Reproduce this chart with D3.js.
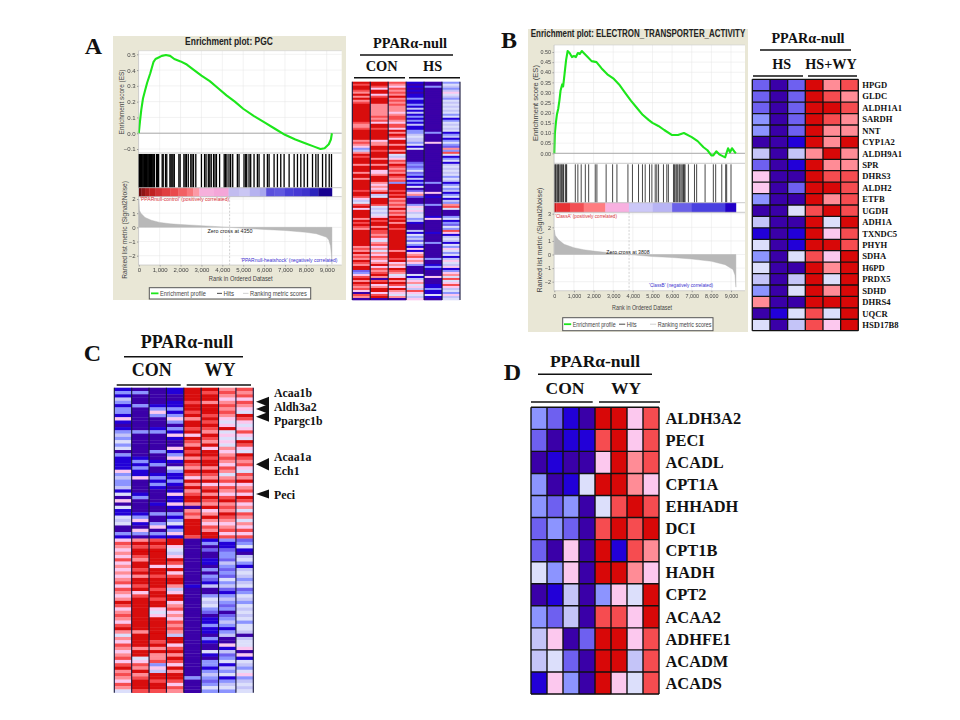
<!DOCTYPE html>
<html><head><meta charset="utf-8">
<script src="https://cdn.jsdelivr.net/npm/d3@7"></script>
<style>html,body{margin:0;padding:0;background:#fff}svg{display:block}</style>
</head><body><svg id="c" width="960" height="720"></svg>
<script>
// ---------- data: heatmap levels, 0 = deepest blue ... 9 = deepest red ----------
const heatColors = ["#3a00a8","#2200d8","#6e60f0","#8c94ff","#c4c4f8","#dcdffb","#fcc8ee","#ff8c96","#f64c50","#d80808"];

const heatA = [
 "9899879797 8999999999 8778999997 8763479899 9799979979 9999899864 5896999979 8987999999 9978797879 8799236897 987860870",
 "9986996899 9777777878 6998999996 7799899979 9799667999 7676794599 9854545698 9979887865 7867576876 7968789708 967996890",
 "8768787978 7877767887 6886979869 9799795468 7987879878 3999898978 7879787989 7998999999 9999799989 6769875697 986976570",
 "1010101131 1314141313 1411334544 3515000000 2323523141 3150267200 0365645534 1000415342 5316167867 6300005146 756486546",
 "0030000000 0000000000 0000030000 6000000000 0000000000 3000060100 0300000160 0000010000 3000000030 0131000600 011311510",
 "3543465435 4545453513 5454513413 5327385135 1454545354 1353413514 3785000351 3253861454 1536535146 5461367585 686453645"
];
const heatC = [
 "1314313316 1013435350 3111163433 4150605115 450031 6876768676 7678687679 8678768975 7687678689 7876875",
 "0300030000 0003000000 0131311600 0013000013 610630 7989987998 9799896899 9999999979 9997995687 9789998",
 "0000013630 0013000003 0013001313 1000010030 036031 8989999969 9899989989 9656999999 9897977836 4998998",
 "1100113136 3031610061 3610531131 0161161031 351361 9965469869 6899746996 7867687874 9968979869 7998687",
 "9999899897 9989698798 9798798697 9789970787 999998 0000000000 0000100000 0000000000 0000000000 0030000",
 "9899799989 8987987969 9899798796 8979879679 768799 1302001103 0321400354 5320113110 3100510331 3432353",
 "7876787876 5695656576 7876875786 8768978798 767868 3112332432 3253421343 2302343134 0061423514 3513453",
 "8786876598 6568659865 9878658796 7869867587 576868 2351045314 5434523543 5454535540 4556061543 5634545"
];
const genesB = ["HPGD","GLDC","ALDH1A1","SARDH","NNT","CYP1A2","ALDH9A1","SPR","DHRS3","ALDH2","ETFB","UGDH","ADH1A","TXNDC5","PHYH","SDHA","H6PD","PRDX5","SDHD","DHRS4","UQCR","HSD17B8"];
const rowsB = ["202978","202987","202998","302987","302977","001979","404797","201977","600988","602998","300978","005898","400959","101968","501998","305869","500979","404959","305979","700999","015859","504869"];
const genesD = ["ALDH3A2","PECI","ACADL","CPT1A","EHHADH","DCI","CPT1B","HADH","CPT2","ACAA2","ADHFE1","ACADM","ACADS"];
const rowsD = ["32109968","20118968","01006978","30159976","32305898","23208989","20609187","53609976","01403659","32408869","46029968","45209948","16309658"];
const labelsC = ["Acaa1b","Aldh3a2","Ppargc1b","Acaa1a","Ech1","Peci"];

const esA = [[0,0],[60,.08],[120,.15],[200,.22],[300,.27],[400,.32],[550,.38],[700,.45],[800,.47],[950,.48],[1100,.49],[1300,.495],[1500,.49],[1700,.47],[2000,.455],[2300,.435],[2600,.405],[3000,.365],[3400,.33],[3800,.285],[4200,.24],[4600,.2],[5000,.155],[5500,.11],[6000,.07],[6500,.03],[7000,-.01],[7500,-.04],[8000,-.065],[8400,-.085],[8700,-.1],[8900,-.095],[9100,-.07],[9200,-.04],[9250,0]];
const esB = [[0,0],[30,.1],[80,.15],[130,.19],[200,.22],[260,.26],[320,.31],[400,.34],[450,.33],[520,.39],[600,.46],[680,.505],[780,.495],[900,.475],[1000,.48],[1100,.475],[1200,.495],[1300,.49],[1400,.505],[1550,.49],[1700,.475],[1900,.455],[2150,.45],[2400,.42],[2700,.39],[3000,.37],[3300,.34],[3600,.3],[3900,.26],[4200,.225],[4500,.19],[4800,.165],[5000,.15],[5300,.135],[5600,.115],[6000,.09],[6300,.09],[6600,.1],[7000,.08],[7300,.06],[7600,.03],[7800,.015],[8000,-.01],[8100,-.01],[8250,.01],[8400,-.005],[8600,-.015],[8700,-.02],[8850,.025],[8950,.005],[9050,.025],[9200,.005],[9250,0]];
const hitsA = [0,40,80,120,160,200,240,280,320,360,400,440,480,520,560,600,640,680,720,750,850,900,950,1120,1170,1280,1340,1490,1540,1590,1640,1700,1920,1980,2160,2220,2280,2370,2490,2550,2620,2730,3000,3150,3220,3330,3400,3470,3580,3650,3720,3870,4090,4150,4220,4320,4400,4500,4720,4800,5040,5120,5170,5280,5360,5520,5680,5760,6000,6160,6240,6480,6640,6800,6960,7200,7440,7600,7760,7920,8080,8320,8480,8590,8800,8960,9120,9230];
const hitsB = [20,60,100,170,200,230,290,340,380,430,470,560,600,630,1070,1200,1370,1580,1750,2085,2170,2640,2970,3190,3750,3980,4290,4490,4630,4850,4970,5140,5220,5310,5560,5730,5810,6070,6120,6190,6240,6290,6360,6400,6460,6520,6580,6620,6660,6830,7140,7250,7680,8100,8220,8530,8730,8780,9000];
const bandEndsA = [120,300,500,800,1100,1500,1900,2300,2600,2900,3600,4300,4800,5300,5800,6100,6500,7000,7400,7800,8200,8600,9250];
const bandColorsA = ["#6e0c10","#8e1216","#a81a1e","#c02024","#d03034","#e03c40","#ea4a4e","#f26064","#f8787c","#fc9aa6","#f6b0dc","#f4a6d8","#c2bcf0","#cac6f4","#b6b2f0","#a8a6ee","#5a50dc","#6058e0","#4a40d8","#4438d4","#3c30cc","#2c20bc","#140090"];
const bandEndsB = [100,800,1500,2600,3800,5000,6000,7000,8700,9250];
const bandColorsB = ["#c41418","#e83034","#f25054","#ff7c80","#f8b0e0","#ccc8f8","#b8b4f4","#6a60e8","#4a40e0","#2000c8"];
const metricA = [[0,2],[30,1.2],[100,1],[300,.7],[600,.5],[1000,.35],[1500,.25],[2000,.2],[3000,.12],[4000,.03],[4350,0],[5000,-.07],[6000,-.15],[7000,-.22],[8000,-.35],[8500,-.45],[9000,-.7],[9100,-.9],[9180,-1.3],[9230,-2],[9250,-2.6]];
const metricB = [[0,1.8],[50,1.4],[200,1.1],[500,.75],[1000,.5],[1500,.35],[2000,.25],[3000,.1],[3808,0],[5000,-.15],[6000,-.22],[7000,-.33],[8000,-.5],[8700,-.75],[9100,-1.1],[9200,-1.5],[9250,-2.4]];
const xTicks = [0,1000,2000,3000,4000,5000,6000,7000,8000,9000];
const esTicksA = [.5,.4,.3,.2,.1,0,-.1];
const esTicksB = [.5,.45,.4,.35,.3,.25,.2,.15,.1,.05,0];
const metricTicksA = [2,1,0,-1,-2];
const metricTicksB = [3,2,1,0,-1,-2];

// ---------- drawing ----------
const svg = d3.select("#c");
const SERIF = "'Liberation Serif',serif", SANS = "'Liberation Sans',sans-serif";
const defs = svg.append("defs");
[["soft",0.45],["soft2",0.3]].forEach(([id,s])=>defs.append("filter").attr("id",id).attr("x","-5%").attr("y","-5%").attr("width","110%").attr("height","110%")
  .append("feGaussianBlur").attr("stdDeviation",s));
const clean = s => s.replace(/ /g,"");
const heatScale = d3.scaleQuantize().domain([0,10]).range(heatColors);
const toCols = rows => d3.transpose(rows.map(r=>r.split(""))).map(c=>c.join(""));

function fit(sel,w){
  const L=sel.node().getComputedTextLength(), x=+sel.attr("x"), y=+sel.attr("y");
  sel.attr("transform",`translate(${x},${y}) scale(${w/L},1) translate(${-x},${-y})`);
  return sel;
}
function heat(cols,box,opt={}){
  const c = cols.map(clean), n = c[0].length;
  const x = d3.scaleBand().domain(d3.range(c.length)).range([box.x0,box.x1]);
  const y = d3.scaleBand().domain(d3.range(n)).range([box.y0,box.y1]);
  const g = svg.append("g");
  const cells = g.append("g"); if(opt.soft) cells.attr("filter","url(#soft)");
  c.forEach((s,i)=>cells.selectAll(null).data(s.split("")).join("rect")
    .attr("x",x(i)).attr("width",x.bandwidth())
    .attr("y",(d,j)=>y(j)).attr("height",y.bandwidth()+0.3)
    .attr("fill",d=>heatScale(+d+0.5)));
  const stroke = opt.grid||"#222";
  g.selectAll(null).data(d3.range(c.length+1)).join("line")
    .attr("x1",i=>i<c.length?x(i):box.x1).attr("x2",i=>i<c.length?x(i):box.x1)
    .attr("y1",box.y0).attr("y2",box.y1).attr("stroke",stroke).attr("stroke-width",opt.sw||1);
  if(opt.rows){
    g.selectAll(null).data(d3.range(n+1)).join("line")
      .attr("y1",i=>i<n?y(i):box.y1).attr("y2",i=>i<n?y(i):box.y1)
      .attr("x1",box.x0).attr("x2",box.x1).attr("stroke",stroke).attr("stroke-width",opt.sw||1);
  }
  if(opt.labels){
    g.selectAll(null).data(opt.labels).join("text")
      .attr("x",box.x1+opt.labelDx).attr("y",(d,i)=>y(i)+y.bandwidth()/2)
      .attr("dy","0.35em").attr("font-family",SERIF).attr("font-weight","bold")
      .attr("font-size",opt.labelSize).attr("fill","#111").text(d=>d);
  }
  return y;
}
function txt(x,y,t,size,o={}){
  return svg.append("text").attr("x",x).attr("y",y).text(t)
   .attr("font-family",o.fam||SERIF).attr("font-weight",o.w||"bold").attr("font-size",size)
   .attr("text-anchor",o.a||"middle").attr("fill",o.fill||"#111");
}
function hline(x0,x1,y,w){svg.append("line").attr("x1",x0).attr("x2",x1).attr("y1",y).attr("y2",y).attr("stroke","#111").attr("stroke-width",w||1.6);}
function header(h){
  txt(h.tx,h.ty,"PPARα-null",h.size);
  hline(h.lx0,h.lx1,h.ly);
  txt(h.ax,h.gy,h.a,h.size); txt(h.bx,h.gy,h.b,h.size);
  hline(h.a0,h.a1,h.gly); hline(h.b0,h.b1,h.gly);
}

function gsea(p){
  const g = svg.append("g").attr("filter","url(#soft2)");
  g.append("rect").attr("x",p.bg[0]).attr("y",p.bg[1]).attr("width",p.bg[2]-p.bg[0]).attr("height",p.bg[3]-p.bg[1]).attr("fill","#e9e7d6");
  g.append("rect").attr("x",p.x0).attr("y",p.top).attr("width",p.x1-p.x0).attr("height",p.bottom-p.top).attr("fill","#fff");
  const x = d3.scaleLinear().domain([0,9000]).range([p.x0+0.3,p.x9]);
  const yE = d3.scaleLinear().domain(p.esD).range(p.esR);
  const yM = d3.scaleLinear().domain([2,-2]).range(p.mR);
  const gridCol="#e4e4e4";
  g.selectAll(null).data(p.xt).join("line").attr("x1",d=>x(d)).attr("x2",d=>x(d)).attr("y1",p.top).attr("y2",p.esB).attr("stroke",gridCol).attr("stroke-width",.5);
  g.selectAll(null).data(p.xt).join("line").attr("x1",d=>x(d)).attr("x2",d=>x(d)).attr("y1",p.bandB).attr("y2",p.bottom).attr("stroke",gridCol).attr("stroke-width",.5);
  g.selectAll(null).data(p.et).join("line").attr("y1",d=>yE(d)).attr("y2",d=>yE(d)).attr("x1",p.x0).attr("x2",p.x1).attr("stroke",gridCol).attr("stroke-width",.5);
  g.selectAll(null).data(p.mt).join("line").attr("y1",d=>yM(d)).attr("y2",d=>yM(d)).attr("x1",p.x0).attr("x2",p.x1).attr("stroke",gridCol).attr("stroke-width",.5);
  g.selectAll(null).data(p.hits).join("line").attr("x1",d=>x(d)).attr("x2",d=>x(d)).attr("y1",p.esB+1).attr("y2",p.hitB)
    .attr("stroke","#000").attr("stroke-width",p.hitW).attr("stroke-opacity",p.hitO);
  g.selectAll(null).data(p.bandE).join("rect")
    .attr("x",(d,i)=>x(i?p.bandE[i-1]:0)).attr("width",(d,i)=>x(d)-x(i?p.bandE[i-1]:0)+.3)
    .attr("y",p.hitB).attr("height",p.bandB-p.hitB).attr("fill",(d,i)=>p.bandC[i]);
  [p.esB,p.hitB,p.bandB].forEach(y=>g.append("line").attr("x1",p.x0).attr("x2",p.x1).attr("y1",y).attr("y2",y).attr("stroke","#bbb").attr("stroke-width",.8));
  g.append("path").datum(p.metric).attr("fill","#b8b8b8").attr("stroke","#b0b0b0").attr("stroke-width",.4)
    .attr("d",d3.area().x(d=>x(d[0])).y0(yM(0)).y1(d=>yM(d[1])));
  g.append("line").attr("x1",x(p.zero)).attr("x2",x(p.zero)).attr("y1",p.bandB).attr("y2",p.bottom).attr("stroke","#bbb").attr("stroke-width",.7).attr("stroke-dasharray","2,1.5");
  g.append("line").attr("x1",p.x0).attr("x2",p.x1).attr("y1",yE(0)).attr("y2",yE(0)).attr("stroke","#aaa").attr("stroke-width",1);
  g.append("path").datum(p.es).attr("fill","none").attr("stroke","#1ee61a").attr("stroke-width",2.1).attr("stroke-linejoin","round")
    .attr("d",d3.line().x(d=>x(d[0])).y(d=>yE(d[1])));
  const axStyle = a=>{a.select(".domain").remove();a.selectAll("line").attr("stroke","#999");
    a.selectAll("text").attr("font-family",SANS).attr("font-size",p.tick).attr("fill","#444");};
  g.append("g").attr("transform",`translate(${p.x0},0)`).call(d3.axisLeft(yE).tickValues(p.et).tickFormat(d3.format(p.ef)).tickSize(1.5).tickPadding(1.5)).call(axStyle);
  g.append("g").attr("transform",`translate(${p.x0},0)`).call(d3.axisLeft(yM).tickValues(p.mt).tickFormat(d3.format("d")).tickSize(1.5).tickPadding(1.5)).call(axStyle);
  g.append("g").attr("transform",`translate(0,${p.bottom})`).call(d3.axisBottom(x).tickValues(p.xt).tickFormat(d3.format(",")).tickSize(1.5).tickPadding(1.5)).call(axStyle);
  g.append("line").attr("x1",p.x0).attr("x2",p.x1).attr("y1",p.top).attr("y2",p.top).attr("stroke","#ccc").attr("stroke-width",.6);
  g.append("line").attr("x1",p.x0).attr("x2",p.x0).attr("y1",p.top).attr("y2",p.bottom).attr("stroke","#bbb").attr("stroke-width",.6);
  g.append("line").attr("x1",p.x0).attr("x2",p.x1).attr("y1",p.bottom).attr("y2",p.bottom).attr("stroke","#bbb").attr("stroke-width",.6);
  const L=p.leg, ym=(L.y0+L.y1)/2;
  g.append("rect").attr("x",L.x0).attr("y",L.y0).attr("width",L.x1-L.x0).attr("height",L.y1-L.y0).attr("fill","#fff").attr("stroke","#555").attr("stroke-width",1);
  [[L.a,"#1ee61a",1.8],[L.b,"#333",.9],[L.c,"#ccc",.9]].forEach(([q,col,w])=>g.append("line").attr("x1",q[0]).attr("x2",q[1]).attr("y1",ym).attr("y2",ym).attr("stroke",col).attr("stroke-width",w));
  // text
  fit(txt(p.title[0],p.title[1],p.title[2],p.title[3],{fam:SANS,fill:"#222"}),p.title[4]);
  const rot=(xx,yy,s,w)=>{const t=svg.append("text").attr("text-anchor","middle").attr("font-family",SANS).attr("font-size",p.lab).attr("fill","#444").text(s);
     t.attr("transform",`translate(${xx},${yy}) rotate(-90) scale(${w/t.node().getComputedTextLength()},1)`);};
  rot(p.esLab[0],p.esLab[1],"Enrichment score (ES)",p.esLab[2]);
  rot(p.mLab[0],p.mLab[1],"Ranked list metric (Signal2Noise)",p.mLab[2]);
  fit(txt(p.xLab[0],p.xLab[1],"Rank in Ordered Dataset",p.lab,{fam:SANS,w:"normal",fill:"#444"}),p.xLab[2]);
  fit(txt(p.red[0],p.red[1],p.red[2],p.small,{fam:SANS,w:"normal",a:"start",fill:"#d83038"}),p.red[3]);
  fit(txt(p.blue[0],p.blue[1],p.blue[2],p.small,{fam:SANS,w:"normal",a:"start",fill:"#3a30d0"}),p.blue[3]);
  txt(p.zt[0],p.zt[1],"Zero cross at "+p.zero,p.small,{fam:SANS,w:"normal",fill:"#222"});
  [[L.a,"Enrichment profile",L.w[0]],[L.b,"Hits",L.w[1]],[L.c,"Ranking metric scores",L.w[2]]].forEach(([q,s,w])=>
    fit(txt(q[1]+1.5,ym+2.4,s,p.lab,{fam:SANS,w:"normal",a:"start",fill:"#444"}),w));
}

gsea({bg:[113,36,346,300],x0:138.5,x1:341.7,x9:326.7,top:50.7,bottom:265,esB:153,hitB:187.7,bandB:196.7,
  esD:[.5,-.1],esR:[54.3,149],mR:[199,255.7],xt:xTicks,et:esTicksA,mt:metricTicksA,ef:".1f",es:esA,metric:metricA,hits:hitsA,hitW:1.3,hitO:1,
  bandE:bandEndsA,bandC:bandColorsA,zero:4350,tick:6,lab:7,small:5.4,
  title:[229,45,"Enrichment plot: PGC",10,88],esLab:[124,102,65],mLab:[127,230,98],xLab:[240.7,281,64],
  red:[140,201.5,"'PPARnull-control' (positively correlated)",89],blue:[240.7,262,"'PPARnull-heatshock' (negatively correlated)",97],zt:[230,233],
  leg:{x0:149.3,x1:310.7,y0:287.7,y1:299,a:[151,158.5],b:[217,222],c:[243,248.5],w:[46,10.5,57]}});
gsea({bg:[528,29,748,332],x0:554,x1:745,x9:731,top:45,bottom:290.7,esB:163.3,hitB:202.7,bandB:212.3,
  esD:[.5,0],esR:[52,153.3],mR:[227.3,281.7],xt:xTicks,et:esTicksB,mt:metricTicksB,ef:".2f",es:esB,metric:metricB,hits:hitsB,hitW:.8,hitO:.9,
  bandE:bandEndsB,bandC:bandColorsB,zero:3808,tick:5.4,lab:7,small:5.2,
  title:[638,37,"Enrichment plot: ELECTRON_TRANSPORTER_ACTIVITY",10,215],esLab:[538,103,76],mLab:[542,240,105],xLab:[642,310,60],
  red:[555,218,"'ClassA' (positively correlated)",62],blue:[649,287,"'ClassB' (negatively correlated)",64],zt:[628,254],
  leg:{x0:562.7,x1:713,y0:317.7,y1:330.7,a:[564,571.2],b:[619,625.2],c:[650,656.2],w:[43,10,54]}});

heat(heatA,{x0:352.3,x1:460,y0:81.7,y1:300},{soft:true,grid:"#15153a",sw:1.1});
heat(toCols(rowsB),{x0:752.3,x1:858.3,y0:79.3,y1:330.7},{rows:true,grid:"#111",sw:1.3,labels:genesB,labelDx:4,labelSize:8.6});
heat(heatC,{x0:114.3,x1:253.3,y0:387.7,y1:692.7},{soft:true,grid:"#15153a",sw:1.1});
heat(toCols(rowsD),{x0:531,x1:659,y0:407.3,y1:694},{rows:true,grid:"#111",sw:1.4,labels:genesD,labelDx:6.5,labelSize:16.4});

header({size:14.4,tx:410,ty:48,lx0:360,lx1:453,ly:55,a:"CON",b:"HS",ax:381.7,bx:432.7,gy:70.7,a0:354,a1:405,b0:409,b1:460,gly:77.7});
header({size:14.2,tx:808,ty:42.7,lx0:760,lx1:851,ly:50,a:"HS",b:"HS+WY",ax:781.7,bx:831,gy:69,a0:753,a1:803,b0:808,b1:857,gly:76});
header({size:18,tx:187,ty:348,lx0:124,lx1:243,ly:356.7,a:"CON",b:"WY",ax:151.7,bx:220,gy:375.7,a0:116.7,a1:180.7,b0:186.7,b1:251,gly:385});
header({size:17.5,tx:595,ty:367.3,lx0:538,lx1:652,ly:374.3,a:"CON",b:"WY",ax:565,bx:626,gy:394.3,a0:531,a1:592.7,b0:599,b1:660,gly:402});

[["A",93.5,54],["B",509,48],["C",92.5,361],["D",512.5,380]].forEach(d=>txt(d[1],d[2],d[0],24));

// panel C annotations
const labelYC=[393.7,407.7,421.7,457.7,471.7,495];
labelsC.forEach((s,i)=>txt(274,labelYC[i]+3.6,s,11.8,{a:"start"}));
const arrows=[[401.7,5],[409,5],[416.7,5],[464.3,6.2],[494,4.5]];
svg.selectAll(null).data(arrows).join("path").attr("fill","#111")
  .attr("d",d=>d3.line()([[256,d[0]],[269,d[0]-d[1]],[269,d[0]+d[1]]])+"Z");
</script></body></html>
